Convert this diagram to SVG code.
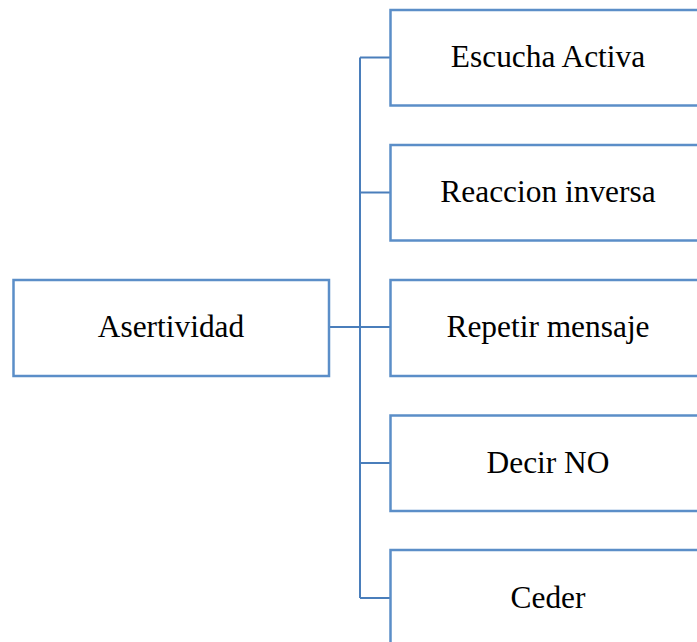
<svg xmlns="http://www.w3.org/2000/svg" width="697" height="642" viewBox="0 0 697 642">
  <style>
    .box { fill: #ffffff; stroke: #5b8ec8; stroke-width: 2.5; }
    .lbl { font-family: "Liberation Serif", "Times New Roman", serif; font-size: 31.4px; fill: #000000; text-anchor: middle; }
    .link { fill: none; stroke: #4a7ebb; stroke-width: 2; }
  </style>
  <rect width="697" height="642" fill="#ffffff"/>
  <g id="connectors">
    <path class="link" d="M360 57.5 V598"/>
    <path class="link" d="M329 327 H360" stroke-width="3"/>
    <path class="link" d="M360 57.5 H390.5 M360 192.5 H390.5 M360 327 H390.5 M360 463 H390.5 M360 598 H390.5"/>
  </g>
  <g id="asertividad">
    <rect class="box" x="13.5" y="280" width="315.5" height="96"/>
    <text class="lbl" x="171" y="337">Asertividad</text>
  </g>
  <g id="escucha-activa">
    <rect class="box" x="390.5" y="10" width="315.5" height="95.5"/>
    <text class="lbl" x="548" y="67">Escucha Activa</text>
  </g>
  <g id="reaccion-inversa">
    <rect class="box" x="390.5" y="145" width="315.5" height="95.5"/>
    <text class="lbl" x="548" y="202">Reaccion inversa</text>
  </g>
  <g id="repetir-mensaje">
    <rect class="box" x="390.5" y="280" width="315.5" height="96"/>
    <text class="lbl" x="548" y="337">Repetir mensaje</text>
  </g>
  <g id="decir-no">
    <rect class="box" x="390.5" y="415.5" width="315.5" height="95.5"/>
    <text class="lbl" x="548" y="472.5">Decir NO</text>
  </g>
  <g id="ceder">
    <rect class="box" x="390.5" y="550" width="315.5" height="96"/>
    <text class="lbl" x="548" y="607.5">Ceder</text>
  </g>
</svg>
